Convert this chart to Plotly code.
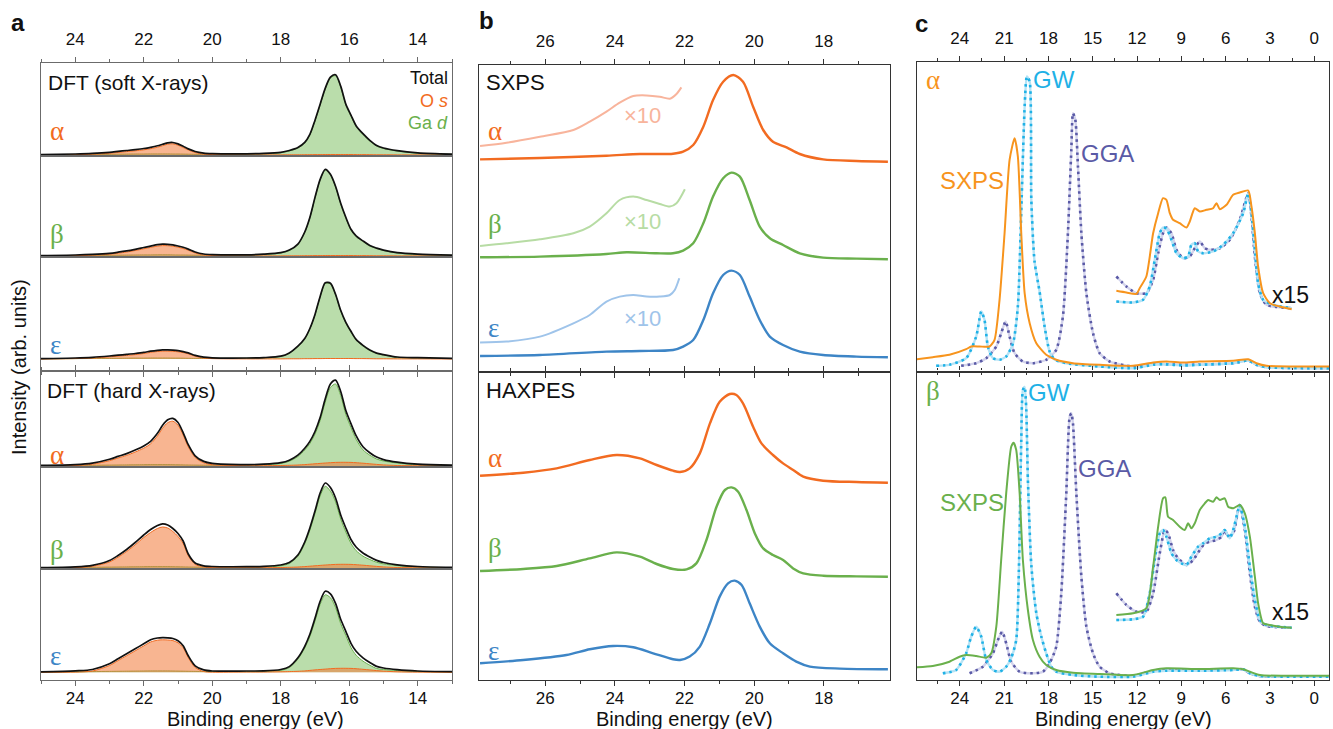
import plotly.graph_objects as go

W, H = 1333, 729
SANS = "Liberation Sans, Arial, sans-serif"
SERIF = "Liberation Serif, Times New Roman, serif"

# ---------------------------------------------------------------- panel a
# DFT partial densities of states (arb. units) on a common energy grid (eV)
GRID_A = [25.0, 24.0, 23.5, 23.0, 22.75, 22.5, 22.25, 22.0, 21.8, 21.6,
          21.45, 21.3, 21.15, 21.0, 20.85, 20.7, 20.5, 20.25, 20.0, 19.0,
          18.5, 18.0, 17.75, 17.5, 17.3, 17.15, 17.0, 16.85, 16.7, 16.55,
          16.4, 16.25, 16.1, 15.95, 15.8, 15.6, 15.4, 15.2, 15.0, 14.6,
          14.0, 13.0]

SOFT_ALPHA_GA = [0.3, 0.5, 0.6, 0.7, 0.8, 0.9, 1.0, 1.0, 1.1, 1.1, 1.1, 1.1, 1.0, 1.0, 0.9, 0.8, 0.7, 0.7, 0.7, 0.8,
                 1.2, 2.3, 4.0, 7.0, 12.0, 20.0, 34.0, 50.0, 66.0, 77.0, 79.3, 68.0, 50.0, 39.0, 28.5, 20.5, 14.0, 9.0, 6.5, 4.0,
                 1.8, 0.6]
SOFT_ALPHA_OS = [0.0, 0.3, 0.8, 1.8, 2.6, 3.4, 4.2, 5.2, 6.3, 7.8, 9.3, 10.8, 11.2, 9.8, 7.5, 5.0, 2.5, 0.9, 0.4, 0.1,
                 0.1, 0.1, 0.2, 0.2, 0.3, 0.3, 0.4, 0.4, 0.5, 0.5, 0.5, 0.5, 0.5, 0.5, 0.4, 0.4, 0.3, 0.2, 0.2, 0.1,
                 0.1, 0.0]
SOFT_ALPHA_TOT = [0.4, 1.0, 1.6, 2.7, 3.6, 4.5, 5.4, 6.5, 7.7, 9.2, 10.7, 12.2, 12.5, 11.1, 8.7, 6.1, 3.5, 1.9, 1.4, 1.2,
                  1.6, 2.7, 4.5, 7.5, 12.6, 20.6, 34.8, 50.8, 66.9, 77.9, 80.2, 68.9, 50.9, 39.9, 29.3, 21.3, 14.7, 9.5, 7.0, 4.4,
                  2.2, 0.9]

SOFT_BETA_GA = [0.3, 0.5, 0.6, 0.7, 0.8, 0.9, 1.0, 1.1, 1.1, 1.2, 1.2, 1.2, 1.1, 1.0, 1.0, 0.9, 0.8, 0.8, 0.8, 0.9,
                1.5, 3.0, 5.5, 11.5, 23.5, 38.0, 58.0, 76.0, 86.0, 81.0, 69.0, 52.0, 38.0, 26.0, 19.5, 14.5, 10.0, 7.5, 5.5, 3.0,
                1.5, 0.6]
SOFT_BETA_OS = [0.0, 0.3, 0.8, 1.8, 2.8, 4.0, 5.5, 7.2, 8.6, 9.9, 10.4, 10.3, 9.8, 8.8, 7.5, 5.8, 3.0, 1.0, 0.4, 0.1,
                0.1, 0.1, 0.2, 0.2, 0.3, 0.3, 0.4, 0.4, 0.5, 0.5, 0.5, 0.5, 0.5, 0.5, 0.4, 0.4, 0.3, 0.2, 0.2, 0.1,
                0.1, 0.0]
SOFT_BETA_TOT = [0.5, 1.0, 1.6, 2.7, 3.8, 5.1, 6.7, 8.5, 9.9, 11.3, 11.8, 11.7, 11.1, 10.0, 8.7, 6.9, 4.0, 2.0, 1.4, 1.2,
                 1.8, 3.3, 5.9, 11.9, 24.0, 38.5, 58.6, 76.6, 86.7, 81.7, 69.7, 52.7, 38.7, 26.7, 20.1, 15.1, 10.5, 7.9, 5.9, 3.3,
                 1.8, 0.8]

SOFT_EPS_GA = [0.2, 0.4, 0.5, 0.6, 0.7, 0.8, 0.9, 0.9, 1.0, 1.0, 1.0, 1.0, 0.9, 0.9, 0.8, 0.7, 0.6, 0.6, 0.6, 0.7,
               1.1, 2.5, 5.7, 12.5, 20.0, 30.0, 44.0, 62.0, 75.5, 75.0, 64.0, 48.0, 36.0, 27.0, 19.0, 13.0, 8.5, 5.5, 4.0, 1.7,
               1.0, 0.4]
SOFT_EPS_OS = [0.0, 0.4, 1.0, 2.2, 2.9, 3.6, 4.4, 5.5, 6.6, 7.5, 7.9, 7.9, 7.7, 7.2, 6.4, 5.2, 2.8, 1.0, 0.4, 0.1,
               0.1, 0.1, 0.2, 0.2, 0.3, 0.3, 0.4, 0.4, 0.5, 0.5, 0.5, 0.5, 0.5, 0.5, 0.4, 0.4, 0.3, 0.2, 0.2, 0.1,
               0.1, 0.0]
SOFT_EPS_TOT = [0.4, 1.0, 1.7, 3.0, 3.8, 4.6, 5.5, 6.6, 7.8, 8.7, 9.1, 9.1, 8.8, 8.3, 7.4, 6.1, 3.6, 1.8, 1.2, 1.0,
                1.4, 2.8, 6.1, 12.9, 20.5, 30.5, 44.6, 62.6, 76.2, 75.7, 64.7, 48.7, 36.7, 27.7, 19.6, 13.6, 9.0, 5.9, 4.4, 2.0,
                1.3, 0.6]

HARD_ALPHA_GA = [0.3, 0.5, 0.7, 0.9, 1.0, 1.1, 1.2, 1.3, 1.4, 1.4, 1.4, 1.4, 1.3, 1.2, 1.1, 1.0, 0.9, 0.8, 0.8, 0.8,
                 1.2, 2.5, 4.8, 9.5, 16.0, 22.5, 32.0, 45.5, 64.0, 78.5, 82.0, 70.5, 51.5, 38.5, 26.7, 16.2, 10.8, 7.0, 5.0, 3.0,
                 1.3, 0.5]
HARD_ALPHA_OS = [0.0, 0.5, 1.8, 5.3, 8.0, 10.6, 14.0, 17.8, 22.2, 30.0, 37.8, 43.3, 44.8, 40.8, 31.0, 19.2, 8.5, 3.2, 1.3, 0.3,
                 0.3, 0.5, 0.7, 1.0, 1.4, 1.8, 2.2, 2.6, 3.0, 3.3, 3.6, 3.7, 3.7, 3.6, 3.3, 2.8, 2.2, 1.6, 1.1, 0.5,
                 0.2, 0.0]
HARD_ALPHA_TOT = [0.6, 1.3, 2.8, 6.7, 9.6, 12.4, 16.0, 20.1, 24.7, 32.7, 40.7, 46.2, 47.6, 43.5, 33.4, 21.3, 10.2, 4.6, 2.6, 1.4,
                  1.8, 3.3, 5.8, 10.8, 17.7, 24.6, 34.5, 48.4, 67.3, 82.1, 85.9, 74.5, 55.5, 42.4, 30.3, 19.3, 13.3, 8.9, 6.4, 3.8,
                  1.8, 0.8]

HARD_BETA_GA = [0.3, 0.5, 0.7, 0.9, 1.0, 1.1, 1.2, 1.3, 1.4, 1.4, 1.4, 1.4, 1.3, 1.2, 1.1, 1.0, 0.9, 0.8, 0.8, 0.7,
                1.0, 2.2, 4.5, 11.7, 24.3, 37.9, 54.5, 72.1, 81.7, 76.9, 66.1, 49.0, 36.0, 24.6, 17.4, 11.9, 8.5, 5.7, 4.1, 2.4,
                1.0, 0.4]
HARD_BETA_OS = [0.0, 0.4, 1.7, 6.0, 10.8, 16.5, 23.2, 30.5, 35.5, 39.5, 41.0, 40.0, 36.5, 31.5, 24.5, 12.2, 3.6, 1.0, 0.4, 0.3,
                0.3, 0.5, 0.7, 1.0, 1.4, 1.8, 2.2, 2.6, 3.0, 3.3, 3.6, 3.7, 3.7, 3.6, 3.3, 2.8, 2.2, 1.6, 1.1, 0.5,
                0.2, 0.0]
HARD_BETA_TOT = [0.5, 1.2, 2.7, 7.5, 12.5, 18.5, 25.5, 33.0, 38.5, 42.5, 44.2, 43.0, 39.5, 34.5, 27.0, 14.0, 5.0, 2.2, 1.5, 1.3,
                 1.6, 3.0, 5.5, 13.0, 26.0, 40.0, 57.0, 75.0, 85.0, 80.5, 70.0, 53.0, 40.0, 28.5, 21.0, 15.0, 11.0, 7.6, 5.5, 3.2,
                 1.5, 0.7]

HARD_EPS_GA = [0.3, 0.5, 0.7, 0.9, 1.0, 1.1, 1.2, 1.3, 1.4, 1.4, 1.4, 1.4, 1.3, 1.2, 1.1, 1.0, 0.9, 0.8, 0.8, 0.7,
               0.8, 2.0, 4.7, 13.2, 24.3, 35.8, 51.3, 67.9, 77.5, 74.6, 64.8, 48.7, 36.8, 24.8, 17.1, 11.2, 7.1, 3.8, 2.8, 1.8,
               0.8, 0.3]
HARD_EPS_OS = [0.0, 0.2, 1.3, 6.8, 11.7, 16.6, 21.5, 26.4, 30.3, 32.1, 32.5, 32.3, 31.7, 29.5, 24.6, 14.7, 4.8, 0.8, 0.1, 0.3,
               0.3, 0.5, 0.7, 1.0, 1.4, 1.9, 2.4, 2.8, 3.2, 3.6, 3.9, 4.0, 4.0, 3.9, 3.6, 3.0, 2.4, 1.7, 1.2, 0.5,
               0.2, 0.0]
HARD_EPS_TOT = [0.5, 1.5, 2.8, 8.5, 13.5, 18.5, 23.5, 28.5, 32.5, 34.3, 34.7, 34.5, 33.8, 31.5, 26.5, 16.5, 6.5, 2.4, 1.3, 1.3,
                1.4, 2.8, 5.7, 14.5, 26.0, 38.0, 54.0, 71.0, 81.0, 78.5, 69.0, 53.0, 41.0, 29.0, 21.0, 14.5, 9.8, 5.9, 4.3, 2.6,
                1.3, 0.6]

# ---------------------------------------------------------------- panel b
# measured Ga 3d spectra (arb. units)
SX_ALPHA_E = [27.87, 26.15, 24.24, 23.28, 22.33, 22.04, 21.75, 21.46, 21.18, 20.89, 20.60, 20.32, 20.03, 19.74, 19.46, 19.07, 18.69, 18.02, 17.06, 16.16]
SX_ALPHA = [2.3, 3.7, 6.0, 7.7, 8.0, 10.0, 16.7, 35.0, 61.7, 80.0, 86.7, 80.0, 55.0, 31.7, 20.0, 14.3, 7.7, 2.3, 0.7, 0.0]
SX_ALPHA_X10_E = [27.87, 27.11, 26.15, 25.19, 24.72, 24.24, 23.86, 23.47, 23.09, 22.71, 22.42, 22.23, 22.09]
SX_ALPHA_X10 = [15.7, 19.0, 25.0, 31.7, 40.0, 50.0, 59.0, 65.7, 66.3, 65.0, 63.0, 67.7, 74.3]

SX_BETA_E = [27.87, 26.15, 24.24, 23.66, 22.80, 22.33, 22.04, 21.75, 21.46, 21.18, 20.89, 20.65, 20.41, 20.13, 19.84, 19.55, 19.17, 18.69, 18.02, 17.06, 16.16]
SX_BETA = [2.0, 2.7, 5.3, 7.0, 6.0, 6.0, 8.7, 16.0, 36.0, 62.7, 81.0, 86.7, 82.7, 59.3, 32.7, 21.0, 14.3, 6.0, 1.7, 0.7, 0.0]
SX_BETA_X10_E = [27.87, 27.11, 26.15, 25.19, 24.72, 24.24, 23.86, 23.47, 23.09, 22.71, 22.42, 22.23, 21.99]
SX_BETA_X10 = [13.3, 16.0, 20.0, 26.0, 32.7, 46.0, 59.3, 62.7, 59.3, 55.3, 52.7, 56.0, 70.0]

SX_EPS_E = [27.87, 26.15, 24.24, 23.28, 22.33, 22.04, 21.75, 21.46, 21.18, 20.89, 20.65, 20.41, 20.13, 19.84, 19.55, 19.17, 18.69, 18.02, 17.06, 16.16]
SX_EPS = [1.3, 2.3, 5.7, 6.3, 7.3, 10.7, 17.3, 37.3, 64.0, 82.3, 86.7, 82.3, 60.7, 37.3, 20.7, 12.3, 5.7, 2.3, 0.7, 0.0]
SX_EPS_X10_E = [27.87, 27.11, 26.15, 25.19, 24.72, 24.24, 23.86, 23.47, 23.09, 22.71, 22.42, 22.28, 22.15]
SX_EPS_X10 = [14.7, 15.7, 20.7, 34.0, 42.3, 55.7, 60.7, 62.3, 60.7, 60.7, 62.3, 67.3, 79.0]

HX_ALPHA_E = [27.87, 26.63, 25.67, 24.72, 23.95, 23.28, 22.80, 22.33, 22.13, 21.85, 21.56, 21.27, 20.99, 20.70, 20.51, 20.32, 20.03, 19.79, 19.46, 19.17, 18.88, 18.59, 18.02, 17.06, 16.16]
HX_ALPHA = [7.0, 10.0, 14.3, 22.7, 27.7, 24.3, 17.7, 12.0, 10.7, 14.3, 29.3, 59.3, 81.0, 88.7, 87.7, 79.3, 56.0, 39.3, 27.7, 19.3, 12.7, 6.0, 2.0, 0.7, 0.0]
HX_BETA_E = [27.87, 26.63, 25.67, 24.72, 23.95, 23.28, 22.80, 22.33, 21.94, 21.66, 21.37, 21.08, 20.84, 20.65, 20.46, 20.22, 19.98, 19.74, 19.46, 19.17, 18.88, 18.59, 18.02, 17.06, 16.16]
HX_BETA = [5.7, 7.7, 10.7, 18.3, 24.3, 20.0, 12.7, 7.7, 7.3, 13.3, 36.7, 70.0, 86.7, 89.3, 85.0, 66.7, 43.3, 28.3, 21.7, 16.7, 8.3, 3.3, 1.0, 0.3, 0.0]
HX_EPS_E = [27.87, 26.63, 25.39, 24.72, 24.05, 23.47, 22.90, 22.33, 22.13, 21.85, 21.56, 21.27, 20.99, 20.75, 20.56, 20.36, 20.13, 19.84, 19.55, 19.17, 18.79, 18.40, 17.54, 16.16]
HX_EPS = [6.0, 9.3, 14.3, 20.0, 23.3, 22.0, 16.0, 10.0, 9.3, 12.7, 22.7, 46.0, 72.7, 86.0, 88.7, 84.3, 66.0, 42.7, 26.0, 16.0, 7.7, 2.7, 0.7, 0.0]

# vertical stacking offsets of the spectra in panel b
SX_OFFSETS = {"alpha": 210.3, "beta": 112.7, "eps": 14.7}
HX_OFFSETS = {"alpha": 197.3, "beta": 103.3, "eps": 10.7}

# ---------------------------------------------------------------- panel c
# alpha: SXPS vs GW and GGA densities of states
C_A_SXPS_E = [26.91, 25.83, 24.70, 23.57, 23.23, 22.66, 21.99, 21.65, 21.31, 20.97, 20.63, 20.29, 20.07, 19.84, 19.61, 19.27, 18.82, 18.15, 17.47, 16.34, 14.53, 12.27, 10.91, 10.01, 8.88, 7.75, 5.49, 4.47, 3.91, 3.23, -1.06]
C_A_SXPS = [12.3, 14.3, 16.7, 22.3, 25.0, 25.0, 25.0, 31.7, 71.7, 138.3, 211.7, 233.3, 215.0, 138.3, 78.3, 48.3, 28.3, 16.7, 11.7, 8.3, 6.7, 5.7, 9.0, 10.0, 9.0, 10.0, 10.7, 12.3, 8.3, 5.7, 5.0]
C_A_GW_E = [25.60, 24.70, 23.57, 22.89, 22.55, 22.33, 22.10, 21.76, 21.31, 20.86, 20.40, 20.07, 19.84, 19.61, 19.46, 19.27, 19.16, 18.94, 18.60, 18.26, 17.92, 17.58, 16.79, 14.53, 12.27, 10.91, 10.24, 8.88, 7.75, 5.49, 4.47, 3.91, 3.23, -1.06]
C_A_GW = [5.7, 6.7, 13.3, 35.0, 60.0, 51.7, 25.0, 13.3, 11.7, 15.0, 28.0, 65.0, 160.0, 265.0, 295.0, 290.0, 172.0, 110.0, 80.0, 45.0, 20.0, 12.0, 8.3, 5.0, 3.3, 6.7, 7.3, 6.0, 6.7, 8.3, 11.0, 6.7, 4.3, 3.3]
C_A_GGA_E = [23.91, 22.89, 22.21, 21.53, 21.20, 20.90, 20.63, 20.29, 19.73, 19.05, 18.15, 17.47, 17.02, 16.68, 16.45, 16.34, 16.18, 16.00, 15.77, 15.43, 14.98, 14.53, 13.85, 12.27, 10.91, 8.88, 5.49, 4.47, 3.91, 3.23, -1.06]
C_A_GGA = [5.7, 8.3, 13.3, 25.0, 38.3, 50.0, 35.0, 18.3, 10.0, 8.3, 11.7, 21.7, 55.0, 138.3, 221.7, 258.3, 251.7, 205.0, 138.3, 78.3, 38.3, 18.3, 10.0, 5.0, 7.7, 6.7, 8.3, 11.0, 6.7, 4.3, 3.3]
# valence band region magnified x15
C_A_SXPS15_E = [13.40, 12.72, 12.04, 11.82, 11.37, 10.91, 10.57, 10.24, 10.01, 9.78, 9.56, 9.11, 8.65, 8.43, 8.09, 7.75, 7.30, 6.85, 6.62, 6.39, 5.94, 5.49, 5.04, 4.47, 4.25, 4.02, 3.80, 3.46, 3.00, 2.33, 1.53]
C_A_SXPS15 = [80.7, 79.0, 77.7, 83.3, 95.0, 138.3, 158.3, 173.3, 171.7, 158.3, 151.7, 148.3, 144.0, 150.0, 163.3, 160.0, 161.7, 163.3, 168.3, 162.3, 166.7, 176.7, 179.0, 181.0, 165.0, 138.3, 105.0, 78.3, 68.3, 65.0, 62.3]
C_A_GW15_E = [13.40, 12.27, 11.59, 11.14, 10.80, 10.46, 10.24, 10.01, 9.67, 9.33, 8.88, 8.54, 8.32, 8.09, 7.86, 7.52, 6.85, 6.17, 5.49, 4.81, 4.47, 4.25, 4.02, 3.80, 3.46, 2.78, 1.53]
C_A_GW15 = [70.0, 69.0, 71.7, 85.0, 111.7, 138.3, 144.0, 143.0, 131.7, 118.3, 113.3, 115.0, 126.7, 128.3, 120.0, 118.3, 120.0, 126.7, 138.3, 158.3, 178.3, 158.3, 121.7, 88.3, 71.7, 66.7, 63.3]
C_A_GGA15_E = [13.40, 12.72, 12.04, 11.37, 10.91, 10.57, 10.24, 10.01, 9.67, 9.33, 8.88, 8.43, 8.09, 7.75, 7.41, 7.07, 6.39, 5.72, 5.04, 4.47, 4.25, 4.02, 3.68, 3.23, 1.53]
C_A_GGA15 = [95.0, 85.0, 78.3, 78.3, 91.7, 118.3, 138.3, 144.0, 138.3, 121.7, 113.3, 115.0, 123.3, 130.0, 123.3, 121.7, 123.3, 131.7, 151.7, 178.3, 155.0, 115.0, 78.3, 66.7, 63.3]

# beta: SXPS vs GW and GGA densities of states
C_B_SXPS_E = [26.91, 25.83, 24.70, 24.02, 23.57, 22.89, 22.21, 21.87, 21.53, 21.20, 20.86, 20.52, 20.36, 20.18, 19.95, 19.73, 19.39, 19.05, 18.60, 18.15, 17.47, 16.34, 14.53, 12.27, 10.91, 10.01, 7.75, 5.49, 4.81, 4.36, 3.68, -1.06]
C_B_SXPS = [12.7, 14.0, 18.3, 23.3, 25.0, 24.0, 22.3, 26.7, 53.3, 120.0, 186.7, 233.3, 237.3, 230.0, 186.7, 120.0, 70.0, 40.0, 23.3, 15.0, 10.0, 7.3, 6.0, 5.0, 10.0, 11.7, 11.0, 11.7, 10.7, 8.3, 5.0, 4.3]
C_B_GW_E = [25.15, 24.25, 23.57, 23.23, 22.89, 22.55, 22.21, 21.76, 21.31, 20.86, 20.52, 20.18, 20.00, 19.84, 19.73, 19.61, 19.50, 19.39, 19.16, 18.82, 18.48, 18.15, 17.81, 17.47, 16.34, 14.53, 12.27, 10.91, 10.01, 7.75, 5.49, 4.81, 4.36, 3.68, -1.06]
C_B_GW = [6.7, 10.0, 26.7, 43.3, 53.3, 43.3, 20.0, 10.0, 8.3, 13.3, 22.0, 40.0, 110.0, 240.0, 290.0, 293.0, 270.0, 200.0, 115.0, 66.7, 43.3, 26.7, 13.3, 8.3, 5.0, 3.3, 3.3, 8.3, 9.3, 9.3, 10.0, 10.7, 6.7, 4.0, 3.3]
C_B_GGA_E = [23.34, 22.44, 21.76, 21.42, 21.13, 20.86, 20.52, 19.95, 19.05, 18.37, 17.92, 17.47, 17.13, 16.79, 16.56, 16.45, 16.34, 16.11, 15.77, 15.43, 14.98, 14.53, 13.85, 12.27, 10.91, 10.01, 7.75, 5.49, 4.81, 4.36, 3.68, -1.06]
C_B_GGA = [6.7, 13.3, 26.7, 40.0, 48.3, 36.7, 18.3, 8.3, 6.7, 8.3, 16.7, 33.3, 86.7, 186.7, 263.3, 266.7, 256.7, 186.7, 103.3, 53.3, 26.7, 13.3, 6.7, 4.0, 9.3, 10.7, 10.0, 10.7, 10.7, 6.7, 4.0, 3.3]
C_B_SXPS15_E = [13.40, 12.27, 11.37, 10.91, 10.57, 10.24, 10.08, 9.90, 9.56, 9.11, 8.77, 8.54, 8.32, 8.09, 7.75, 7.41, 7.19, 6.85, 6.62, 6.39, 6.06, 5.83, 5.49, 5.04, 4.70, 4.36, 4.02, 3.80, 3.46, 3.00, 2.33, 1.53]
C_B_SXPS15 = [65.0, 66.7, 71.7, 113.3, 153.3, 181.7, 182.7, 163.3, 160.0, 153.3, 150.0, 156.7, 151.7, 156.7, 170.0, 176.7, 180.0, 178.3, 182.7, 180.0, 181.7, 173.3, 171.7, 175.0, 166.7, 143.3, 103.3, 76.7, 56.7, 55.0, 53.3, 52.3]
C_B_GW15_E = [13.40, 12.27, 11.59, 11.14, 10.80, 10.46, 10.24, 10.01, 9.67, 9.33, 8.99, 8.65, 8.32, 7.86, 7.52, 7.07, 6.62, 6.28, 6.06, 5.72, 5.49, 5.15, 5.04, 4.70, 4.36, 4.02, 3.68, 3.23, 1.53]
C_B_GW15 = [60.0, 60.7, 63.3, 86.7, 120.0, 146.7, 150.0, 143.3, 126.7, 120.0, 116.7, 115.0, 123.3, 133.3, 136.7, 141.7, 143.3, 146.7, 150.0, 141.7, 150.0, 170.0, 175.0, 153.3, 113.3, 80.0, 60.0, 55.0, 52.3]
C_B_GGA15_E = [13.40, 12.72, 12.04, 11.37, 10.91, 10.46, 10.12, 9.90, 9.56, 9.22, 8.65, 8.20, 7.75, 7.41, 7.07, 6.62, 6.28, 6.06, 5.83, 5.49, 5.15, 5.04, 4.70, 4.36, 4.02, 3.68, 3.23, 1.53]
C_B_GGA15 = [86.7, 75.0, 68.3, 68.3, 86.7, 126.7, 150.0, 146.7, 130.0, 121.7, 115.0, 120.0, 130.0, 136.7, 138.3, 140.0, 143.3, 150.0, 143.3, 146.7, 170.0, 175.0, 150.0, 106.7, 73.3, 58.3, 54.0, 52.3]

# ---------------------------------------------------------------- styling
ORANGE = "#f26b21"
GREEN = "#6ab04c"
BLUE = "#3d85c6"
ORANGE_LIGHT = "#f8b49c"
GREEN_LIGHT = "#b7dca4"
BLUE_LIGHT = "#9fc4ea"
GA_FILL = "rgb(186,221,171)"
OS_FILL = "rgba(243,120,55,0.55)"
C_ORANGE = "#f7941d"
GW_COL = "#1fb1e6"
GW_UNDER = "#b5e3f5"
GGA_COL = "#5a5aa6"
GGA_UNDER = "#d3d3ec"
DOTS = "2.5px,4px"
AX_A = "#6b6b6b"
AX_BC = "#333333"


def fx(px):
    return px / W


def fy(py):
    return 1 - py / H


fig = go.Figure()
layout = dict(width=W, height=H, margin=dict(l=0, r=0, t=0, b=0),
              paper_bgcolor="white", plot_bgcolor="white", showlegend=False,
              annotations=[])


def add_line(x, y, n, color, width, dash="solid", fill=None, fillcolor=None, smooth=0.8):
    key = "" if n == 1 else str(n)
    fig.add_trace(go.Scatter(
        x=x, y=y, xaxis="x" + key, yaxis="y" + key, mode="lines",
        line=dict(color=color, width=width, dash=dash, shape="spline", smoothing=smooth),
        fill=fill if fill else "none", fillcolor=fillcolor,
        hoverinfo="skip", showlegend=False))


def set_axes(n, xdom, ydom, xrange, yrange, dtick, mdtick, side, ticks, labels,
             mirror, axcolor):
    key = "" if n == 1 else str(n)
    tickdir = "outside" if ticks else ""
    layout["xaxis" + key] = dict(
        domain=xdom, range=xrange, anchor="y" + key, side=side,
        showline=True, linecolor=axcolor, linewidth=1.2, mirror=mirror,
        ticks=tickdir, ticklen=4.5, tickwidth=1.2, tickcolor=axcolor,
        tick0=0, dtick=dtick,
        minor=dict(ticks=tickdir, dtick=mdtick, ticklen=2.8, tickwidth=1, tickcolor=axcolor),
        showticklabels=labels, ticklabelstandoff=6 if side == "top" else -2,
        tickfont=dict(family=SANS, size=17, color="#111"),
        showgrid=False, zeroline=False, fixedrange=True)
    layout["yaxis" + key] = dict(
        domain=ydom, range=yrange, anchor="x" + key,
        showline=True, linecolor=axcolor, linewidth=1.2, mirror=True,
        ticks="", showticklabels=False, showgrid=False, zeroline=False,
        fixedrange=True)


def note(text, x, y, size, color="#111", xanchor="left", family=SANS, angle=0):
    layout["annotations"].append(dict(
        text=text, x=fx(x), y=fy(y), xref="paper", yref="paper",
        xanchor=xanchor, yanchor="middle", showarrow=False, textangle=angle,
        font=dict(family=family, size=size, color=color)))


# ---------------------------------------------------------------- panel a
A_X = [fx(41), fx(452)]
A_ROWS = [(63, 156), (156, 257), (257, 371), (371, 467), (467, 569), (569, 680)]
A_YR = [[-1, 92], [-1, 100], [-12, 102], [-1, 95], [-1, 101], [-7.7, 103.3]]
A_AXES = [("top", True, True), ("bottom", False, False), ("bottom", True, False),
          ("top", True, False), ("bottom", False, False), ("bottom", True, True)]
A_SETS = [(SOFT_ALPHA_GA, SOFT_ALPHA_OS, SOFT_ALPHA_TOT),
          (SOFT_BETA_GA, SOFT_BETA_OS, SOFT_BETA_TOT),
          (SOFT_EPS_GA, SOFT_EPS_OS, SOFT_EPS_TOT),
          (HARD_ALPHA_GA, HARD_ALPHA_OS, HARD_ALPHA_TOT),
          (HARD_BETA_GA, HARD_BETA_OS, HARD_BETA_TOT),
          (HARD_EPS_GA, HARD_EPS_OS, HARD_EPS_TOT)]

for i, ((top, bot), yr, (side, ticks, labels), (ga, os_, tot)) in enumerate(
        zip(A_ROWS, A_YR, A_AXES, A_SETS)):
    n = i + 1
    set_axes(n, A_X, [fy(bot), fy(top)], [25, 13], yr, 2, 1, side, ticks, labels,
             True, AX_A)
    add_line(GRID_A, ga, n, GREEN, 1, fill="tozeroy", fillcolor=GA_FILL)
    add_line(GRID_A, os_, n, ORANGE, 1, fill="tozeroy", fillcolor=OS_FILL)
    add_line(GRID_A, tot, n, "#111111", 1.7)

note("DFT (soft X-rays)", 46, 82, 21)
note("DFT (hard X-rays)", 45, 390, 21)
note("Total", 450, 78, 18, xanchor="right")
note("O <i>s</i>", 450, 101, 18, color=ORANGE, xanchor="right")
note("Ga <i>d</i>", 450, 123, 18, color=GREEN, xanchor="right")
for y, txt, col in [(131, "α", ORANGE), (234, "β", GREEN), (345, "ε", BLUE),
                    (455, "α", ORANGE), (550, "β", GREEN), (656, "ε", BLUE)]:
    note(txt, 48, y, 27, color=col, family=SERIF)
note("Intensity (arb. units)", 19, 367, 20, xanchor="center", angle=-90)
note("Binding energy (eV)", 255, 719, 20, xanchor="center")

# ---------------------------------------------------------------- panel b
B_X = [fx(479), fx(890)]
set_axes(7, B_X, [fy(372), fy(65)], [27.9, 16.1], [0, 307], 2, 1, "top", True, True,
         "ticks", AX_BC)
set_axes(8, B_X, [fy(680), fy(372)], [27.9, 16.1], [0, 308], 2, 1, "bottom", True, True,
         "ticks", AX_BC)

for e, v, e10, v10, key, col, lcol in [
        (SX_ALPHA_E, SX_ALPHA, SX_ALPHA_X10_E, SX_ALPHA_X10, "alpha", ORANGE, ORANGE_LIGHT),
        (SX_BETA_E, SX_BETA, SX_BETA_X10_E, SX_BETA_X10, "beta", GREEN, GREEN_LIGHT),
        (SX_EPS_E, SX_EPS, SX_EPS_X10_E, SX_EPS_X10, "eps", BLUE, BLUE_LIGHT)]:
    off = SX_OFFSETS[key]
    add_line(e10, [y + off for y in v10], 7, lcol, 2)
    add_line(e, [y + off for y in v], 7, col, 2.4)

for e, v, key, col in [(HX_ALPHA_E, HX_ALPHA, "alpha", ORANGE),
                       (HX_BETA_E, HX_BETA, "beta", GREEN),
                       (HX_EPS_E, HX_EPS, "eps", BLUE)]:
    off = HX_OFFSETS[key]
    add_line(e, [y + off for y in v], 8, col, 2.4)

note("SXPS", 484, 82, 22)
note("HAXPES", 484, 390, 22)
for y, txt, col in [(131, "α", ORANGE), (224, "β", GREEN), (328, "ε", BLUE),
                    (458, "α", ORANGE), (548, "β", GREEN), (651, "ε", BLUE)]:
    note(txt, 486, y, 27, color=col, family=SERIF)
for y, col in [(116, ORANGE_LIGHT), (221, GREEN_LIGHT), (318, BLUE_LIGHT)]:
    note("×10", 642, y, 22, color=col, xanchor="center")
note("Binding energy (eV)", 684.5, 719, 20, xanchor="center")

# ---------------------------------------------------------------- panel c
C_X = [fx(917), fx(1329)]
set_axes(9, C_X, [fy(371.5), fy(62)], [26.9, -1], [0, 309.5], 3, 1.5, "top", True, True,
         "ticks", AX_BC)
set_axes(10, C_X, [fy(680), fy(371.5)], [26.9, -1], [0, 308.5], 3, 1.5, "bottom", True, True,
         "ticks", AX_BC)

for n, sx, gw, gga, sx15, gw15, gga15, scol in [
        (9, (C_A_SXPS_E, C_A_SXPS), (C_A_GW_E, C_A_GW), (C_A_GGA_E, C_A_GGA),
         (C_A_SXPS15_E, C_A_SXPS15), (C_A_GW15_E, C_A_GW15), (C_A_GGA15_E, C_A_GGA15), C_ORANGE),
        (10, (C_B_SXPS_E, C_B_SXPS), (C_B_GW_E, C_B_GW), (C_B_GGA_E, C_B_GGA),
         (C_B_SXPS15_E, C_B_SXPS15), (C_B_GW15_E, C_B_GW15), (C_B_GGA15_E, C_B_GGA15), GREEN)]:
    for (e, v) in (gga, gga15):
        add_line(e, v, n, GGA_UNDER, 2.4, smooth=0.6)
        add_line(e, v, n, GGA_COL, 2.6, dash=DOTS, smooth=0.6)
    for (e, v) in (gw, gw15):
        add_line(e, v, n, GW_UNDER, 2.4, smooth=0.6)
        add_line(e, v, n, GW_COL, 2.6, dash=DOTS, smooth=0.6)
    for (e, v) in (sx, sx15):
        add_line(e, v, n, scol, 2.0, smooth=0.6)

note("α", 924, 80, 27, color=C_ORANGE, family=SERIF)
note("GW", 1031, 79, 24, color=GW_COL)
note("GGA", 1079, 153, 24, color=GGA_COL)
note("SXPS", 972, 180, 24, color=C_ORANGE, xanchor="center")
note("x15", 1270, 295, 23)
note("β", 924, 391, 27, color=GREEN, family=SERIF)
note("GW", 1026, 392, 24, color=GW_COL)
note("GGA", 1076, 468, 24, color=GGA_COL)
note("SXPS", 972, 502, 24, color=GREEN, xanchor="center")
note("x15", 1270, 612, 23)
note("Binding energy (eV)", 1123, 719, 20, xanchor="center")

# panel letters
note("<b>a</b>", 18, 22, 24, xanchor="center")
note("<b>b</b>", 486, 21, 24, xanchor="center")
note("<b>c</b>", 921, 23, 24, xanchor="center")

fig.update_layout(**layout)
fig.write_html("out.html")
